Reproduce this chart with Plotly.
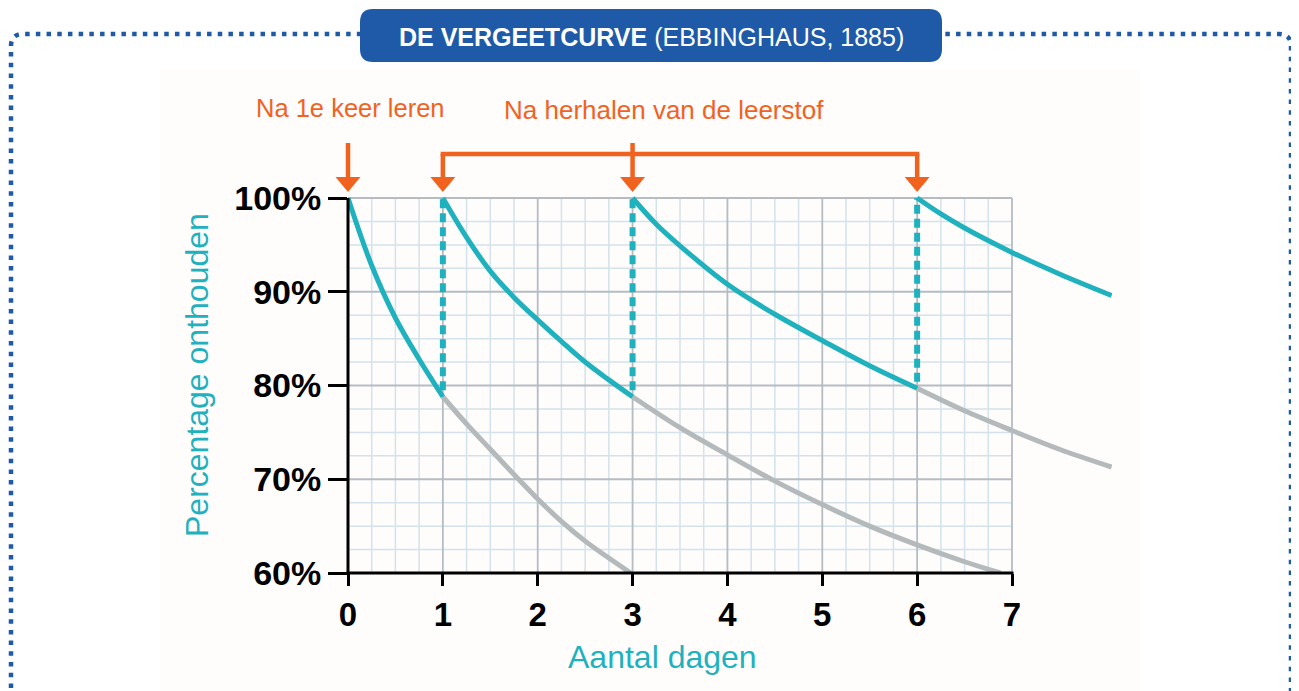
import numpy as np
import plotly.graph_objects as go

# ---------------- data ----------------
teal1_x = [0.0, 0.25, 0.5, 0.75, 1.0]
teal1_y = [100, 92.8, 87.2, 82.8, 78.8]
gray1_x = [1.0, 1.25, 1.5, 1.75, 2.0, 2.25, 2.5, 2.75, 2.98]
gray1_y = [78.8, 75.9, 73.2, 70.5, 67.9, 65.5, 63.4, 61.6, 60.0]

teal2_x = [1.0, 1.25, 1.5, 1.75, 2.0, 2.25, 2.5, 2.75, 3.0]
teal2_y = [100, 95.8, 92.2, 89.4, 87.0, 84.7, 82.5, 80.6, 78.8]
gray2_x = [3.0, 3.5, 4.0, 4.5, 5.0, 5.5, 6.0, 6.5, 6.88]
gray2_y = [78.8, 75.5, 72.6, 69.8, 67.3, 65.0, 63.0, 61.2, 60.0]

teal3_x = [3.0, 3.25, 3.5, 4.0, 4.5, 5.0, 5.5, 6.0]
teal3_y = [100, 97.2, 94.9, 90.8, 87.6, 84.8, 82.1, 79.7]
gray3_x = [6.0, 6.5, 7.0, 7.5, 8.05]
gray3_y = [79.7, 77.3, 75.2, 73.2, 71.3]

teal4_x = [6.0, 6.25, 6.5, 7.0, 7.5, 8.05]
teal4_y = [100, 98.3, 96.8, 94.2, 91.9, 89.6]

review_days = [1, 3, 6]
first_day = 0
x_ticks = [0, 1, 2, 3, 4, 5, 6, 7]
y_ticks = [60, 70, 80, 90, 100]
y_tick_text = ["60%", "70%", "80%", "90%", "100%"]

title_bold = "DE VERGEETCURVE"
title_rest = " (EBBINGHAUS, 1885)"
label_first = "Na 1e keer leren"
label_review = "Na herhalen van de leerstof"
x_title = "Aantal dagen"
y_title = "Percentage onthouden"

# ---------------- layout geometry (page pixels) ----------------
OFF = 8                      # default body margin of the html page
W, H = 1299 - OFF, 691 - OFF
L, R = 348, 1112             # plot area in page pixels
TOP, BOT = 189, 573
PW, PH = R - L, BOT - TOP
DAY_PX = 664 / 7.0
XMAX = PW / DAY_PX
PCT_PX = 375 / 40.0
YMAX = 60 + PH / PCT_PX

TEAL = "#1fb1be"
GRAY = "#b4b9bb"
ORANGE = "#f2621f"
BLUE = "#1e5aa8"
GRID_MINOR = "#d3e2eb"
GRID_MAJOR = "#b5bcc2"
FONT = "Liberation Sans, Arial, sans-serif"


def pxx(x):
    return (x - L) / PW


def pxy(y):
    return (BOT - y) / PH


def dx(d):
    return d / XMAX


fig = go.Figure()

# grid (drawn only over days 0..7)
minor_x = [v for v in np.arange(0.25, 7.0, 0.25) if abs(v - round(v)) > 1e-9]
minor_y = [v for v in np.arange(62.5, 100.0, 2.5) if abs(v % 10) > 1e-9]
major_x = [1, 2, 3, 4, 5, 6, 7]
major_y = [70, 80, 90, 100]


def grid_xy(xs, ys):
    gx, gy = [], []
    for v in xs:
        gx += [v, v, None]
        gy += [60, 100, None]
    for v in ys:
        gx += [0, 7, None]
        gy += [v, v, None]
    return gx, gy


gx, gy = grid_xy(minor_x, minor_y)
fig.add_trace(go.Scatter(x=gx, y=gy, mode="lines", line=dict(color=GRID_MINOR, width=1.5),
                         hoverinfo="skip", showlegend=False))
gx, gy = grid_xy(major_x, major_y)
fig.add_trace(go.Scatter(x=gx, y=gy, mode="lines", line=dict(color=GRID_MAJOR, width=1.8),
                         hoverinfo="skip", showlegend=False))

# forgetting (gray) curves
for xs, ys in [(gray1_x, gray1_y), (gray2_x, gray2_y), (gray3_x, gray3_y)]:
    fig.add_trace(go.Scatter(x=xs, y=ys, mode="lines",
                             line=dict(color=GRAY, width=5, shape="spline", smoothing=1.0),
                             hoverinfo="skip", showlegend=False))

# dashed jumps at review days
prev_ends = [teal1_y[-1], teal2_y[-1], teal3_y[-1]]
for d, v in zip(review_days, prev_ends):
    fig.add_trace(go.Scatter(x=[d, d], y=[v + 0.7, 100], mode="lines",
                             line=dict(color=TEAL, width=6, dash="9px,5px"),
                             hoverinfo="skip", showlegend=False))

# retention (teal) curves
for xs, ys in [(teal1_x, teal1_y), (teal2_x, teal2_y), (teal3_x, teal3_y), (teal4_x, teal4_y)]:
    fig.add_trace(go.Scatter(x=xs, y=ys, mode="lines",
                             line=dict(color=TEAL, width=5, shape="spline", smoothing=1.0),
                             hoverinfo="skip", showlegend=False))

shapes = []
# off-white picture background
shapes.append(dict(type="rect", xref="paper", yref="paper", x0=pxx(160), x1=pxx(1140),
                   y0=pxy(700), y1=pxy(69), fillcolor="#fefdfc", line=dict(width=0), layer="below"))
# dotted frame
fl, ft, fr, fb, rr = 11, 34, 1291, 720, 12
frame_path = (f"M {pxx(fl)},{pxy(fb)} L {pxx(fl)},{pxy(ft + rr)} "
              f"Q {pxx(fl)},{pxy(ft)} {pxx(fl + rr)},{pxy(ft)} "
              f"L {pxx(fr - rr)},{pxy(ft)} Q {pxx(fr)},{pxy(ft)} {pxx(fr)},{pxy(ft + rr)} "
              f"L {pxx(fr)},{pxy(fb)}")
shapes.append(dict(type="path", xref="paper", yref="paper", path=frame_path,
                   line=dict(color=BLUE, width=4.5, dash="4.5px,6.2px"), layer="below"))
# title box
bl, bt, br, bb, brr = 360, 9, 942, 62, 13
box_path = (f"M {pxx(bl + brr)},{pxy(bt)} L {pxx(br - brr)},{pxy(bt)} "
            f"Q {pxx(br)},{pxy(bt)} {pxx(br)},{pxy(bt + brr)} L {pxx(br)},{pxy(bb - brr)} "
            f"Q {pxx(br)},{pxy(bb)} {pxx(br - brr)},{pxy(bb)} L {pxx(bl + brr)},{pxy(bb)} "
            f"Q {pxx(bl)},{pxy(bb)} {pxx(bl)},{pxy(bb - brr)} L {pxx(bl)},{pxy(bt + brr)} "
            f"Q {pxx(bl)},{pxy(bt)} {pxx(bl + brr)},{pxy(bt)} Z")
shapes.append(dict(type="path", xref="paper", yref="paper", path=box_path,
                   fillcolor=BLUE, line=dict(width=0), layer="above"))

# axis lines
shapes.append(dict(type="line", xref="paper", yref="paper", x0=dx(0) - 1.5 / PW, x1=dx(7) + 1.5 / PW,
                   y0=0, y1=0, line=dict(color="black", width=3), layer="above"))
shapes.append(dict(type="line", xref="paper", yref="paper", x0=0, x1=0, y0=0,
                   y1=(100 - 60) / (YMAX - 60), line=dict(color="black", width=3), layer="above"))

# orange arrows
stem_top, bracket_y, head_top, head_tip = 143, 154, 177, 192
hw = 12.5 / PW
for d, top in [(first_day, stem_top), (review_days[1], stem_top),
               (review_days[0], bracket_y), (review_days[2], bracket_y)]:
    shapes.append(dict(type="line", xref="paper", yref="paper", x0=dx(d), x1=dx(d),
                       y0=pxy(top), y1=pxy(head_top + 2), line=dict(color=ORANGE, width=4.5)))
    shapes.append(dict(type="path", xref="paper", yref="paper",
                       path=f"M {dx(d) - hw},{pxy(head_top)} L {dx(d) + hw},{pxy(head_top)} L {dx(d)},{pxy(head_tip)} Z",
                       fillcolor=ORANGE, line=dict(width=0)))
shapes.append(dict(type="line", xref="paper", yref="paper", x0=dx(review_days[0]) - 2.2 / PW,
                   x1=dx(review_days[2]) + 2.2 / PW,
                   y0=pxy(bracket_y), y1=pxy(bracket_y), line=dict(color=ORANGE, width=4.5)))

annotations = [
    dict(xref="paper", yref="paper", x=pxx(651), y=pxy(37), showarrow=False,
         text=f"<b>{title_bold}</b>{title_rest}", font=dict(family=FONT, size=25, color="white"),
         xanchor="center", yanchor="middle"),
    dict(xref="paper", yref="paper", x=pxx(350), y=pxy(108), showarrow=False,
         text=label_first, font=dict(family=FONT, size=25.5, color=ORANGE),
         xanchor="center", yanchor="middle"),
    dict(xref="paper", yref="paper", x=pxx(664), y=pxy(110), showarrow=False,
         text=label_review, font=dict(family=FONT, size=26, color=ORANGE),
         xanchor="center", yanchor="middle"),
    dict(xref="paper", yref="paper", x=pxx(662), y=pxy(657), showarrow=False,
         text=x_title, font=dict(family=FONT, size=32, color=TEAL),
         xanchor="center", yanchor="middle"),
    dict(xref="paper", yref="paper", x=pxx(197), y=pxy(375), showarrow=False,
         text=y_title, font=dict(family=FONT, size=32, color=TEAL), textangle=-90,
         xanchor="center", yanchor="middle"),
]

fig.update_layout(
    width=W, height=H, autosize=False,
    margin=dict(l=L - OFF, r=W - (R - OFF), t=TOP - OFF, b=H - (BOT - OFF), autoexpand=False),
    paper_bgcolor="white", plot_bgcolor="rgba(0,0,0,0)",
    shapes=shapes, annotations=annotations, showlegend=False,
    xaxis=dict(range=[0, XMAX], tickvals=x_ticks, ticktext=[str(t) for t in x_ticks],
               showgrid=False, zeroline=False, showline=False,
               ticks="outside", ticklen=12, tickwidth=3, tickcolor="black",
               tickfont=dict(family=FONT, size=33, color="black", weight="bold"),
               fixedrange=True),
    yaxis=dict(range=[60, YMAX], tickvals=y_ticks, ticktext=y_tick_text,
               showgrid=False, zeroline=False, showline=False,
               ticks="outside", ticklen=19, tickwidth=3, tickcolor="black",
               tickfont=dict(family=FONT, size=34, color="black", weight="bold"),
               fixedrange=True),
)

fig.write_html("out.html")
